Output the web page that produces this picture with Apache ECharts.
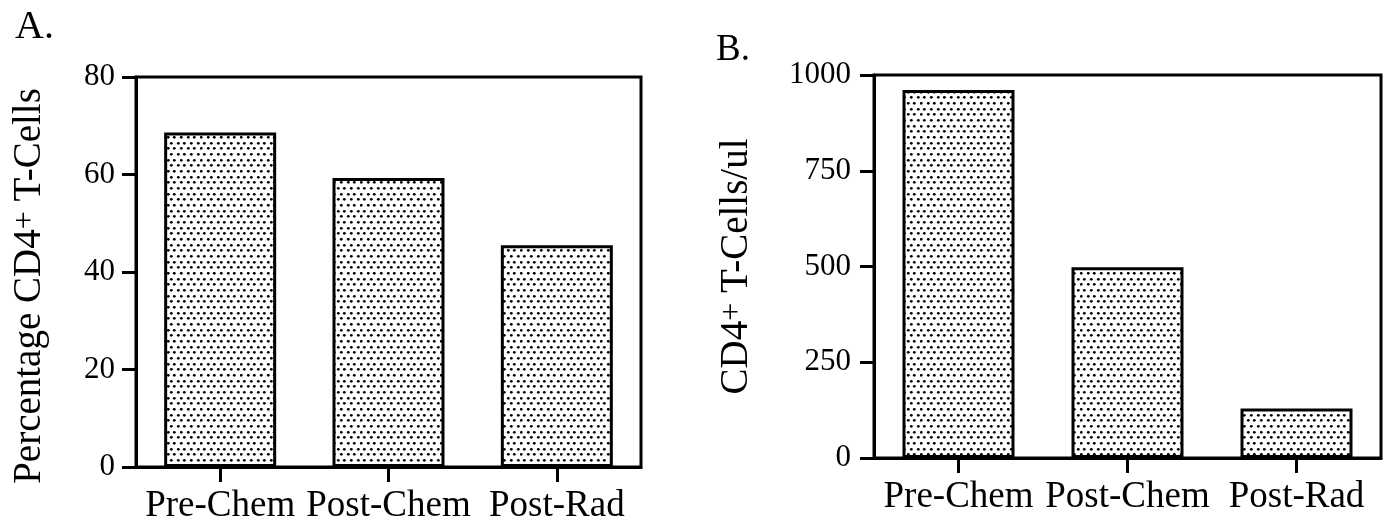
<!DOCTYPE html>
<html>
<head>
<meta charset="utf-8">
<script src="https://cdn.jsdelivr.net/npm/echarts@6/dist/echarts.min.js"></script>
<style>
html,body{margin:0;padding:0;background:#fff;}
#chart{width:1389px;height:527px;}
</style>
</head>
<body>
<div id="chart"></div>
<script>
// ---- data ----
const categories = ['Pre-Chem', 'Post-Chem', 'Post-Rad'];
const percentCD4 = [68.6, 59.3, 45.5];
const countCD4 = [961, 498, 129];
const percentTicks = {min: 0, max: 80, interval: 20};
const countTicks = {min: 0, max: 1000, interval: 250};

// ---- dotted fill pattern ----
function makePattern() {
  const w = 40, h = 34;
  const c = document.createElement('canvas');
  c.width = w; c.height = h;
  const g = c.getContext('2d');
  g.fillStyle = '#fff';
  g.fillRect(0, 0, w, h);
  g.fillStyle = '#000';
  for (let r = 0; r < 6; r++) {
    for (let k = 0; k < 6; k++) {
      const x = Math.round(k * w / 6 + (r % 2) * w / 12) % w;
      const y = Math.round(r * h / 6);
      g.beginPath();
      g.arc(x + 1.3, y + 1.3, 1.4, 0, Math.PI * 2);
      g.fill();
    }
  }
  return c;
}
const pattern = makePattern();

const FONT = 'Liberation Serif';
const black = '#000';

function yAxis(gridIndex, ticks, name, nameGap, labelMargin, namePad) {
  return {
    type: 'value', gridIndex: gridIndex,
    min: ticks.min, max: ticks.max, interval: ticks.interval,
    name: name, nameLocation: 'middle', nameGap: nameGap, nameRotate: 90,
    nameTextStyle: {
      fontFamily: FONT, fontSize: 39, color: black, padding: namePad,
      rich: {
        a: {fontFamily: FONT, fontSize: 39, color: black},
        s: {fontFamily: FONT, fontSize: 32, color: black, verticalAlign: 'top', padding: [0, 0, 8, 0]}
      }
    },
    axisLine: {show: true, lineStyle: {color: black, width: 3}},
    axisTick: {show: true, inside: false, length: 14, lineStyle: {color: black, width: 3}},
    axisLabel: {fontFamily: FONT, fontSize: 31, color: black, margin: labelMargin,
                formatter: function (v) { return String(v); }},
    splitLine: {show: false}
  };
}
function xAxis(gridIndex) {
  return {
    type: 'category', gridIndex: gridIndex, data: categories,
    axisLine: {show: true, lineStyle: {color: black, width: 3}},
    axisTick: {show: true, alignWithLabel: true, length: 15, lineStyle: {color: black, width: 3}},
    axisLabel: {fontFamily: FONT, fontSize: 37, color: black, margin: 21, interval: 0},
    splitLine: {show: false}
  };
}

const chart = echarts.init(document.getElementById('chart'), null, {renderer: 'canvas'});
chart.setOption({
  backgroundColor: '#fff',
  animation: false,
  title: [
    {text: 'A.', left: 10, top: 2, textStyle: {fontFamily: FONT, fontSize: 40, fontWeight: 'normal', color: black}},
    {text: 'B.', left: 711, top: 27, textStyle: {fontFamily: FONT, fontSize: 37, fontWeight: 'normal', color: black}}
  ],
  grid: [
    {left: 136, top: 77, width: 505, height: 390, show: true, borderColor: black, borderWidth: 3, backgroundColor: 'transparent'},
    {left: 874, top: 75, width: 507, height: 383, show: true, borderColor: black, borderWidth: 3, backgroundColor: 'transparent'}
  ],
  xAxis: [xAxis(0), xAxis(1)],
  yAxis: [
    yAxis(0, percentTicks, '{a|Percentage CD4}{s|+}{a| T-Cells}', 86, 21, [0, 28, 0, 0]),
    yAxis(1, countTicks, '{a|CD4}{s|+}{a| T-Cells/ul}', 117, 23, [0, 0, 0, 0])
  ],
  series: [
    {type: 'bar', xAxisIndex: 0, yAxisIndex: 0, data: percentCD4, barWidth: 112,
     itemStyle: {color: {image: pattern, repeat: 'repeat'}, borderColor: black, borderWidth: 3}},
    {type: 'bar', xAxisIndex: 1, yAxisIndex: 1, data: countCD4, barWidth: 112,
     itemStyle: {color: {image: pattern, repeat: 'repeat'}, borderColor: black, borderWidth: 3}}
  ]
});
</script>
</body>
</html>
